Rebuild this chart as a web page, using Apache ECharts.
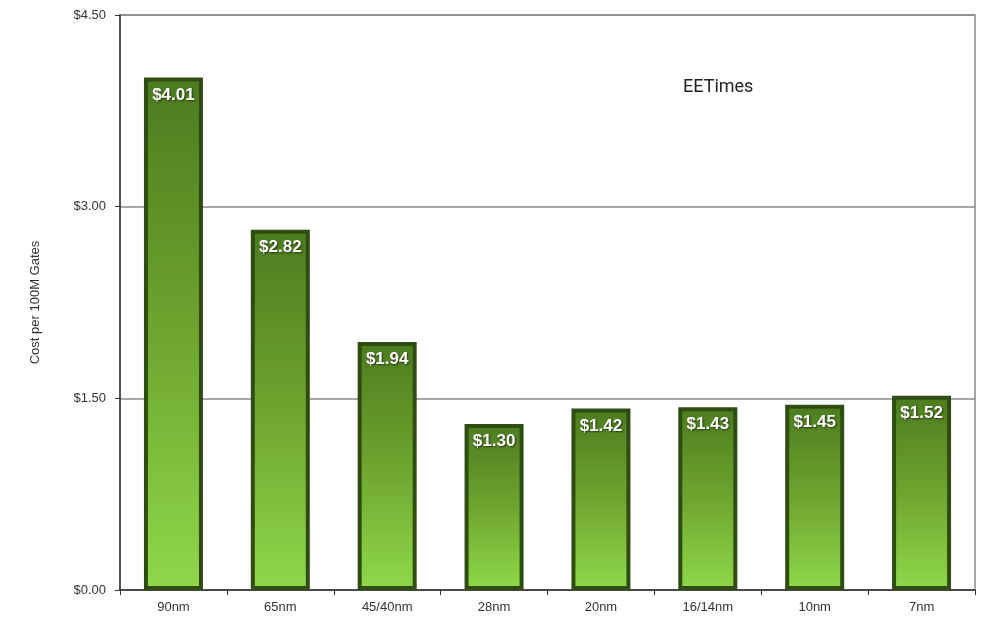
<!DOCTYPE html>
<html>
<head>
<meta charset="utf-8">
<script src="https://cdn.jsdelivr.net/npm/echarts@6/dist/echarts.min.js"></script>
<style>html,body{margin:0;padding:0;background:#fff;}#c{width:981px;height:626px;}</style>
</head>
<body>
<div id="c"></div>
<script>
const categories = ['90nm', '65nm', '45/40nm', '28nm', '20nm', '16/14nm', '10nm', '7nm'];
const costValues = [4.01, 2.82, 1.94, 1.30, 1.42, 1.43, 1.45, 1.52];
const yTicks = [0, 1.5, 3.0, 4.5];

const chart = echarts.init(document.getElementById('c'), null, {renderer: 'canvas'});
chart.setOption({
  animation: false,
  backgroundColor: '#ffffff',
  grid: {left: 120, right: 6, top: 15, bottom: 36, show: true, borderColor: '#8a8a8a', borderWidth: 1.5, backgroundColor: 'transparent'},
  graphic: [{
    type: 'text', left: 683, top: 78,
    style: {text: 'EETimes', font: '18px Roboto', fill: '#222'}
  }],
  xAxis: {
    type: 'category', data: categories,
    axisLine: {lineStyle: {color: '#333', width: 1.5}},
    axisTick: {show: true, length: 5, alignWithLabel: false, lineStyle: {color: '#333'}},
    axisLabel: {color: '#333', fontFamily: 'Liberation Sans', fontSize: 13, margin: 11}
  },
  yAxis: {
    type: 'value', min: 0, max: 4.5, interval: 1.5,
    name: 'Cost per 100M Gates', nameLocation: 'middle', nameGap: 78,
    nameTextStyle: {color: '#333', fontFamily: 'Liberation Sans', fontSize: 13},
    axisLine: {show: true, lineStyle: {color: '#333', width: 1.5}},
    axisTick: {show: true, length: 5, lineStyle: {color: '#333'}},
    axisLabel: {color: '#333', fontFamily: 'Liberation Sans', fontSize: 13, margin: 14,
      formatter: v => '$' + v.toFixed(2)},
    splitLine: {show: true, lineStyle: {color: '#8a8a8a', width: 1.5}}
  },
  series: [{
    type: 'bar', data: costValues, barWidth: 59,
    itemStyle: {
      color: new echarts.graphic.LinearGradient(0, 0, 0, 1, [
        {offset: 0, color: '#4c7b1f'},
        {offset: 0.5, color: '#6ea52f'},
        {offset: 1, color: '#90d84a'}
      ]),
      borderColor: '#2f4d12', borderWidth: 4
    },
    label: {
      show: true, position: 'insideTop', distance: 9,
      formatter: p => '$' + p.value.toFixed(2),
      color: '#fff', fontFamily: 'Liberation Sans', fontWeight: 'bold', fontSize: 17,
      textShadowColor: 'rgba(0,0,0,0.6)', textShadowBlur: 2, textShadowOffsetX: 1, textShadowOffsetY: 1
    }
  }]
});
</script>
</body>
</html>
